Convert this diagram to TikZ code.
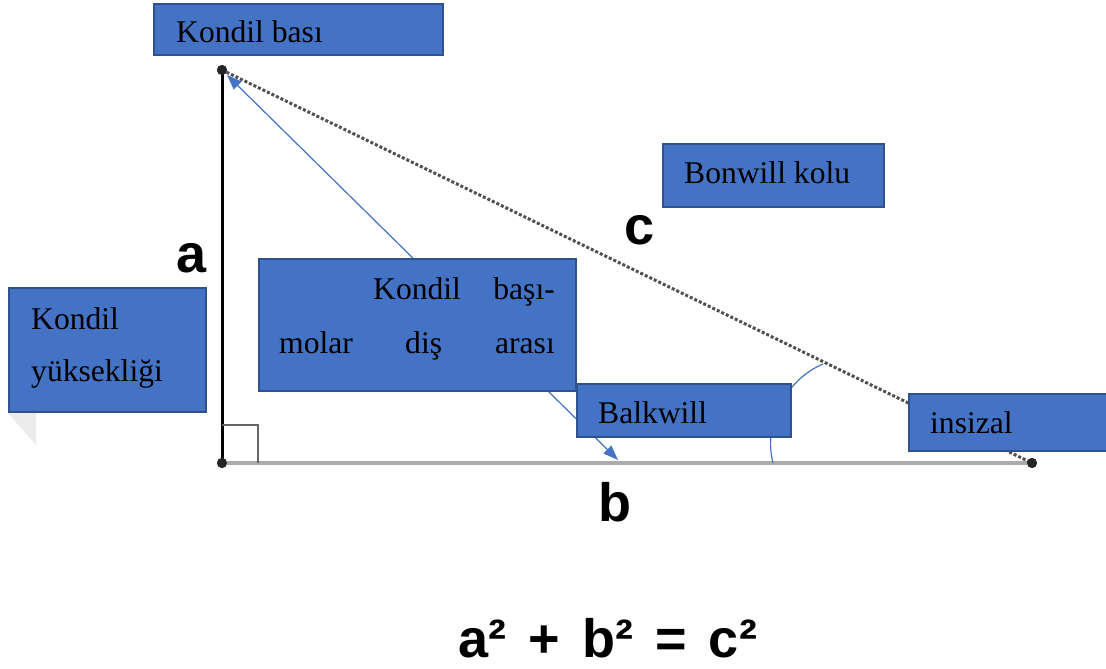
\documentclass[tikz,border=0pt]{standalone}
\usepackage{fontspec}
\setmainfont{Liberation Serif}
\newfontfamily\arialf{Liberation Sans}
\usetikzlibrary{arrows.meta}
\definecolor{boxblue}{HTML}{4472C4}
\definecolor{boxedge}{HTML}{2F528F}
\definecolor{hypo}{HTML}{505050}
\definecolor{basegray}{HTML}{ABABAB}
\tikzset{
  bluebox/.style={draw=boxedge, fill=boxblue, line width=2pt, inner sep=0pt, anchor=north west, rectangle},
  boxtext/.style={inner sep=0pt, anchor=base west, font=\fontsize{31.6}{38}\selectfont},
  sidelabel/.style={inner sep=0pt, font=\arialf\bfseries\fontsize{54}{60}\selectfont},
  dotpt/.style={circle, fill=black!85, inner sep=0pt, minimum size=10pt},
  bluearrow/.style={draw=boxblue, line width=1.2pt, {Triangle[length=15pt,width=11pt]}-{Triangle[length=15pt,width=11pt]}}
}
\begin{document}
\begin{tikzpicture}[x=1pt,y=-1pt]
\useasboundingbox (0,0) rectangle (1106,669);
% faint artifact
\fill[gray!15] (8,413) -- (36,413) -- (36,445) -- cycle;
% triangle
\node[dotpt] (A) at (222,70) {};
\node[dotpt] (C) at (222,463) {};
\node[dotpt] (B) at (1032,463) {};
\draw[basegray, line width=4pt] (C.center) -- (B.center);
\draw[black, line width=3pt] (A.center) -- (C.center);
\draw[hypo, line width=3pt, dash pattern=on 3pt off 2pt] (A.center) -- (B.center);
\coordinate (sq1) at (222,425);
\coordinate (sq2) at (258,425);
\coordinate (sq3) at (258,463);
\draw[gray!80!black, line width=2pt] (sq1) -- (sq2) -- (sq3);
\node[dotpt] at (A) {};
\node[dotpt] at (C) {};
\node[dotpt] at (B) {};
% labels a b c
\node[sidelabel] (la) at (192,258) {a};
\node[sidelabel] (lc) at (640,230) {c};
\node[sidelabel] (lb) at (615,502) {b};
% angle arc
\coordinate (arc1) at (773,463);
\coordinate (arc2) at (823,364);
\draw[boxblue, line width=1.2pt] (arc1) .. controls (763,425) and (785,380) .. (arc2);
% blue arrow
\coordinate (ar1) at (618,460);
\coordinate (ar2) at (227,75);
\draw[bluearrow] (ar1) -- (ar2);
% boxes
\node[bluebox, minimum width=289pt, minimum height=51pt] (kb) at (153,3) {};
\node[boxtext] (kbt) at (176,43) {Kondil bası};
\node[bluebox, minimum width=221pt, minimum height=63pt] (bk) at (662,143) {};
\node[boxtext] (bkt) at (684,183) {Bonwill kolu};
\node[bluebox, minimum width=197pt, minimum height=124pt] (ky) at (8,287) {};
\node[boxtext] (kyt1) at (31,329) {Kondil};
\node[boxtext] (kyt2) at (31,381) {yüksekliği};
\node[bluebox, minimum width=317pt, minimum height=132pt] (km) at (258,258) {};
\node[boxtext] (kmt1) at (373,299) {Kondil};
\node[boxtext, anchor=base east] (kmt2) at (555,299) {başı-};
\node[boxtext] (kmt3) at (279,353) {molar};
\node[boxtext] (kmt4) at (405,353) {diş};
\node[boxtext, anchor=base east] (kmt5) at (555,353) {arası};
\node[bluebox, minimum width=214pt, minimum height=53pt] (bw) at (576,383) {};
\node[boxtext] (bwt) at (598,423) {Balkwill};
\node[bluebox, minimum width=200pt, minimum height=57pt] (iz) at (908,393) {};
\node[boxtext] (izt) at (930,433) {insizal};
% formula
\node[inner sep=0pt, anchor=base, font=\arialf\bfseries\fontsize{54}{60}\selectfont] (eq) at (608,657) {a²\hspace{7pt} + \hspace{7pt}b²\hspace{7pt} = \hspace{7pt}c²};
\end{tikzpicture}
\end{document}
